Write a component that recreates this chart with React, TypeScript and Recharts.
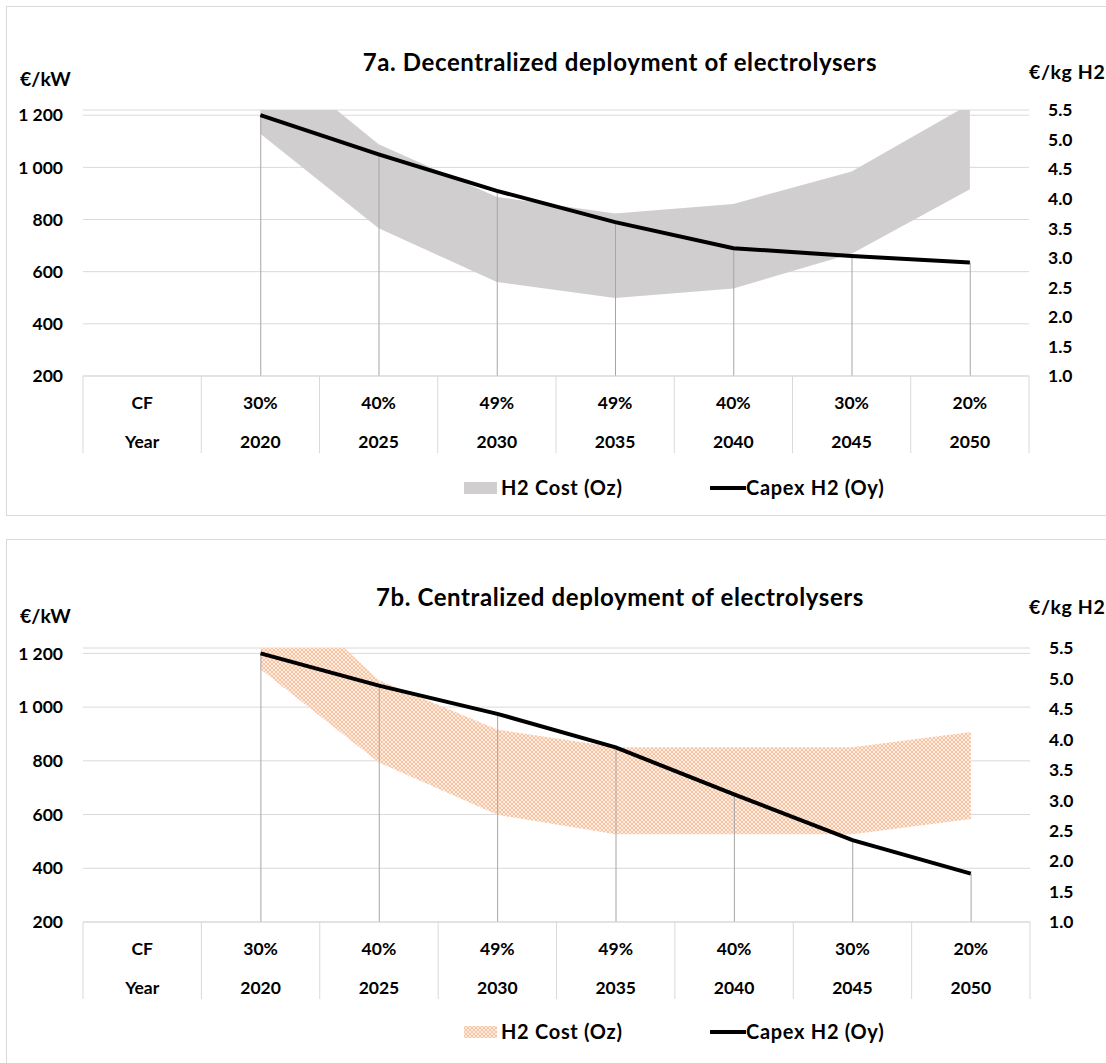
import React from 'react';
import { ComposedChart, Area, Bar, Line, XAxis, YAxis, CartesianGrid } from 'recharts';

// categories / table rows
const years = ['Year', '2020', '2025', '2030', '2035', '2040', '2045', '2050'];
const cfLabels = ['CF', '30%', '40%', '49%', '49%', '40%', '30%', '20%'];

// 7a. decentralized
const capexDecentral = [null, 1200, 1050, 910, 790, 690, 660, 635];
const costLowDecentral = [null, 5.1, 3.5, 2.59, 2.32, 2.48, 3.07, 4.16];
const costHighDecentral = [null, 6.55, 4.92, 4.03, 3.75, 3.91, 4.46, 5.6];

// 7b. centralized
const capexCentral = [null, 1200, 1080, 975, 850, 675, 505, 380];
const costLowCentral = [null, 5.15, 3.62, 2.76, 2.44, 2.44, 2.44, 2.69];
const costHighCentral = [null, 6.78, 4.97, 4.16, 3.87, 3.87, 3.87, 4.12];

const leftTicks = [200, 400, 600, 800, 1000, 1200];
const rightTicks = [1, 1.5, 2, 2.5, 3, 3.5, 4, 4.5, 5, 5.5];

const FONT = 'Lato, "Open Sans", sans-serif';
const GRID = '#d9d9d9';

const buildRows = (capex: (number | null)[], low: (number | null)[], high: (number | null)[]) =>
  years.map((year, i) => ({
    year,
    capex: capex[i],
    cost: low[i] == null ? null : [low[i], high[i]],
  }));

const fmtLeft = (v: number) =>
  v >= 1000 ? `${Math.floor(v / 1000)} ${String(v % 1000).padStart(3, '0')}` : `${v}`;

const tickText = { fontFamily: FONT, fontWeight: 700, fontSize: 17.5, fill: '#000' };

const TableTick = (props: any) => {
  const { x, y, payload } = props;
  const idx = props.index ?? years.indexOf(payload.value);
  const half = payload && payload.offset ? payload.offset : 59;
  const h = 77;
  return (
    <g>
      {idx === 0 && <line x1={x - half} x2={x - half} y1={y} y2={y + h} stroke={GRID} />}
      <line x1={x + half} x2={x + half} y1={y} y2={y + h} stroke={GRID} />
      <text x={x} y={y + 27} dy="0.36em" textAnchor="middle" {...tickText}>{cfLabels[idx]}</text>
      <text x={x} y={y + 66} dy="0.36em" textAnchor="middle" {...tickText}>{payload.value}</text>
    </g>
  );
};

const HatchDef = ({ id }: { id: string }) => (
  <pattern id={id} patternUnits="userSpaceOnUse" width="4" height="4">
    <rect width="4" height="4" fill="#F7C3A0" />
    <circle cx="0" cy="0" r="0.95" fill="#fff" />
    <circle cx="4" cy="0" r="0.95" fill="#fff" />
    <circle cx="0" cy="4" r="0.95" fill="#fff" />
    <circle cx="4" cy="4" r="0.95" fill="#fff" />
    <circle cx="2" cy="2" r="0.95" fill="#fff" />
  </pattern>
);

const textStyle = (left: number, cy: number, size: number, spacing = 0): React.CSSProperties => ({
  position: 'absolute',
  left,
  top: cy - size * 0.55,
  fontFamily: FONT,
  fontWeight: 700,
  fontSize: size,
  letterSpacing: spacing,
  lineHeight: 1,
  whiteSpace: 'nowrap',
  color: '#000',
});

interface ChartBlockProps {
  title: string;
  rows: any[];
  top: number;
  plotTop: number;
  plotBottom: number;
  plotRight: number;
  titleY: number;
  unitLeftY: number;
  unitRightY: number;
  legendY: number;
  hatched?: boolean;
}

const ChartBlock: React.FC<ChartBlockProps> = ({
  title, rows, top, plotTop, plotBottom, plotRight, titleY, unitLeftY, unitRightY, legendY, hatched,
}) => {
  const width = 1106;
  const height = plotBottom - top + 80 + 14;
  const fill = hatched ? 'url(#hatchB)' : '#D0CECE';

  const RightTick = (p: any) => (
    <text x={plotRight + 19} y={p.y} dy="0.36em" textAnchor="start" {...tickText}>
      {Number(p.payload.value).toFixed(1)}
    </text>
  );

  return (
    <>
      <ComposedChart
        width={width}
        height={height}
        data={rows}
        margin={{ top: plotTop - top, left: 13, right: width - plotRight - 60, bottom: 14 }}
        style={{ position: 'absolute', left: 0, top }}
      >
        <defs>
          <HatchDef id="hatchB" />
        </defs>
        <CartesianGrid yAxisId="left" vertical={false} stroke={GRID} />
        <XAxis
          dataKey="year"
          interval={0}
          tickLine={false}
          tickSize={0}
          tickMargin={0}
          axisLine={{ stroke: GRID }}
          height={80}
          tick={<TableTick />}
        />
        <YAxis
          yAxisId="left"
          orientation="left"
          width={70}
          domain={[200, 1220]}
          ticks={leftTicks}
          interval={0}
          tickFormatter={fmtLeft}
          axisLine={false}
          tickLine={false}
          tickMargin={14}
          tick={tickText}
        />
        <YAxis
          yAxisId="right"
          orientation="right"
          width={60}
          domain={[1, 5.5]}
          allowDataOverflow
          ticks={rightTicks}
          interval={0}
          axisLine={false}
          tickLine={false}
          tick={<RightTick />}
        />
        <Area
          yAxisId="right"
          dataKey="cost"
          type="linear"
          fill={fill}
          fillOpacity={1}
          stroke="none"
          isAnimationActive={false}
        />
        <Bar yAxisId="left" dataKey="capex" barSize={1} fill="#a6a6a6" isAnimationActive={false} />
        <Line
          yAxisId="left"
          dataKey="capex"
          type="linear"
          stroke="#000"
          strokeWidth={4}
          dot={false}
          isAnimationActive={false}
        />
      </ComposedChart>

      <div style={{ ...textStyle(0, titleY, 24, 0.6), width: 1240, textAlign: 'center' }}>{title}</div>
      <div style={textStyle(20, unitLeftY, 19.5)}>€/kW</div>
      <div style={textStyle(1029, unitRightY, 19.5, 0.6)}>€/kg H2</div>

      <svg width={33} height={12} style={{ position: 'absolute', left: 464, top: legendY - 6 }}>
        <defs>
          <HatchDef id={hatched ? 'hatchLegend' : 'noHatch'} />
        </defs>
        <rect width={33} height={12} fill={hatched ? 'url(#hatchLegend)' : '#D0CECE'} />
      </svg>
      <div style={textStyle(501, legendY, 20, 0.7)}>H2 Cost (Oz)</div>
      <div style={{ position: 'absolute', left: 710, top: legendY - 2, width: 36, height: 4, background: '#000' }} />
      <div style={textStyle(746, legendY, 20, 0.7)}>Capex H2 (Oy)</div>
    </>
  );
};

export default function App() {
  const rowsA = buildRows(capexDecentral, costLowDecentral, costHighDecentral);
  const rowsB = buildRows(capexCentral, costLowCentral, costHighCentral);
  return (
    <div
      style={{
        position: 'fixed',
        left: 0,
        top: 0,
        width: 1106,
        height: 1063,
        overflow: 'hidden',
        background: '#fff',
      }}
    >
      <div style={{ position: 'absolute', left: 6, top: 6, width: 1120, height: 508, border: `1px solid ${GRID}` }} />
      <div style={{ position: 'absolute', left: 6, top: 539, width: 1120, height: 600, border: `1px solid ${GRID}` }} />
      <ChartBlock
        title="7a. Decentralized deployment of electrolysers"
        rows={rowsA}
        top={0}
        plotTop={110}
        plotBottom={376}
        plotRight={1029}
        titleY={63}
        unitLeftY={80}
        unitRightY={73}
        legendY={488}
      />
      <ChartBlock
        title="7b. Centralized deployment of electrolysers"
        rows={rowsB}
        top={538}
        plotTop={648}
        plotBottom={922}
        plotRight={1030}
        titleY={598}
        unitLeftY={617}
        unitRightY={608}
        legendY={1032}
        hatched
      />
    </div>
  );
}
